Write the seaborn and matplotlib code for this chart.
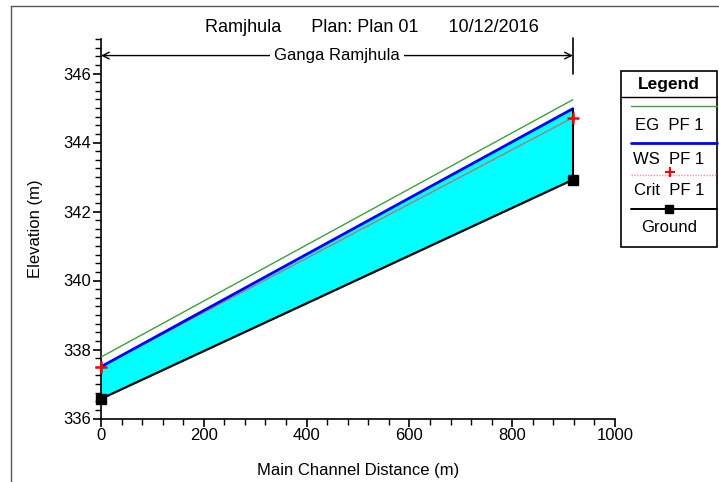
import numpy as np
import pandas as pd
import matplotlib
matplotlib.use("Agg")
import matplotlib.pyplot as plt
from matplotlib.lines import Line2D
import seaborn as sns

# ---- data ----
distance = [0, 918]
eg_pf1 = [337.78, 345.24]
ws_pf1 = [337.50, 344.98]
crit_pf1 = [337.50, 344.72]
ground = [336.57, 342.92]
reach_name = "Ganga Ramjhula"
title_text = "Ramjhula      Plan: Plan 01      10/12/2016"
legend_labels = ["EG  PF 1", "WS  PF 1", "Crit  PF 1", "Ground"]

sns.set_theme(style="white")
plt.rcParams['font.family'] = ['Liberation Sans', 'DejaVu Sans']

W, H = 719, 482
fig = plt.figure(figsize=(W / 100, H / 100), dpi=100)
ax = fig.add_axes([101 / W, 1 - 418.5 / H, (615 - 101) / W, (418.5 - 39) / H])

df = pd.DataFrame({"x": distance, "eg": eg_pf1, "ws": ws_pf1, "crit": crit_pf1, "g": ground})

ax.fill_between(df["x"], df["g"], df["ws"], color="#00FFFF", lw=0, zorder=1)
sns.lineplot(data=df, x="x", y="eg", color="#3CA03C", lw=1.0, ax=ax, zorder=3)
sns.lineplot(data=df, x="x", y="crit", color="#B07878", lw=1.0, ax=ax, zorder=3)
sns.lineplot(data=df, x="x", y="ws", color="#0000FF", lw=2.0, ax=ax, zorder=4)
sns.lineplot(data=df, x="x", y="g", color="black", lw=1.6, ax=ax, zorder=5)
ax.plot(df["x"], df["crit"], ls="none", marker="+", ms=9, mew=1.8, color="red",
        zorder=6, clip_on=False)
ax.plot(df["x"], df["g"], ls="none", marker="s", ms=7, color="black", zorder=6,
        clip_on=False)
# right bank vertical line
ax.plot([distance[-1], distance[-1]], [ground[-1], ws_pf1[-1]], color="black", lw=1.5, zorder=5)

ax.set_xlim(0, 1000)
ax.set_ylim(336, 347)
ax.set_xticks(np.arange(0, 1001, 200))
ax.set_xticks(np.arange(0, 1001, 40), minor=True)
ax.set_yticks(np.arange(336, 347, 2))
ax.set_yticks(np.arange(336, 347.01, 0.25), minor=True)
for s in ["top", "right"]:
    ax.spines[s].set_visible(False)
for s in ["left", "bottom"]:
    ax.spines[s].set_color("black")
    ax.spines[s].set_linewidth(1.2)
ax.tick_params(axis="both", which="major", direction="out", length=6, width=1.2,
               color="black", labelsize=12, labelcolor="black", pad=1,
               bottom=True, left=True)
ax.tick_params(axis="both", which="minor", direction="out", length=4, width=1.0,
               color="black", bottom=True, left=True)
ax.set_xlabel("Main Channel Distance (m)", fontsize=12, color="black", labelpad=14)
ax.set_ylabel("Elevation (m)", fontsize=12, color="black", labelpad=15)
ax.grid(False)
ax.set_facecolor("white")

# reach bracket
yb = 346.52
ax.annotate("", xy=(0, yb), xytext=(distance[-1], yb),
            arrowprops=dict(arrowstyle="<->", color="black", lw=1.0, shrinkA=0, shrinkB=0),
            annotation_clip=False)
ax.plot([distance[-1], distance[-1]], [346.0, 347.02], color="black", lw=1.2, clip_on=False)
ax.text(distance[-1] / 2, yb, reach_name, ha="center", va="center", fontsize=12,
        color="black", bbox=dict(fc="white", ec="none", pad=3), zorder=7)

fig.text(372 / W, 1 - 27 / H, title_text, ha="center", va="center", fontsize=13, color="black")

# legend box (figure pixel coordinates)
def fx(px):
    return px / W
def fy(py):
    return 1 - py / H

lx0, lx1, ly0, ly1 = 621, 717, 71, 247
fig.add_artist(plt.Rectangle((fx(lx0), fy(ly1)), fx(lx1) - fx(lx0), fy(ly0) - fy(ly1),
                             transform=fig.transFigure, fill=False, ec="black", lw=1.2))
fig.add_artist(Line2D([fx(lx0), fx(lx1)], [fy(97), fy(97)], transform=fig.transFigure,
                      color="black", lw=1.0))
fig.text(fx((lx0 + lx1) / 2), fy(84), "Legend", ha="center", va="center",
         fontsize=12.5, fontweight="bold", color="black")
cx = (lx0 + lx1) / 2
styles = [
    dict(color="#3CA03C", lw=1.0),
    dict(color="#0000FF", lw=2.0),
    dict(color="#FF9090", lw=1.0, ls=(0, (1, 1))),
    dict(color="black", lw=1.4),
]
line_y = [106, 143, 175, 209]
text_y = [126, 160, 191, 228]
for lab, st, lyy, tyy in zip(legend_labels, styles, line_y, text_y):
    fig.add_artist(Line2D([fx(lx0 + 10), fx(lx1)], [fy(lyy), fy(lyy)],
                          transform=fig.transFigure, **st))
    fig.text(fx(cx), fy(tyy), lab, ha="center", va="center", fontsize=12, color="black")
fig.add_artist(Line2D([fx(cx + 1)], [fy(172)], transform=fig.transFigure, ls="none",
                      marker="+", ms=7, mew=1.5, color="red"))
fig.add_artist(Line2D([fx(cx)], [fy(209)], transform=fig.transFigure, ls="none",
                      marker="s", ms=6, color="black"))

# outer frame
fig.add_artist(Line2D([fx(11), fx(719)], [fy(6), fy(6)], transform=fig.transFigure,
                      color="#555555", lw=1.0))
fig.add_artist(Line2D([fx(11), fx(11)], [fy(6), fy(482)], transform=fig.transFigure,
                      color="#555555", lw=1.0))

fig.savefig("out.png", dpi=100, facecolor="white")
